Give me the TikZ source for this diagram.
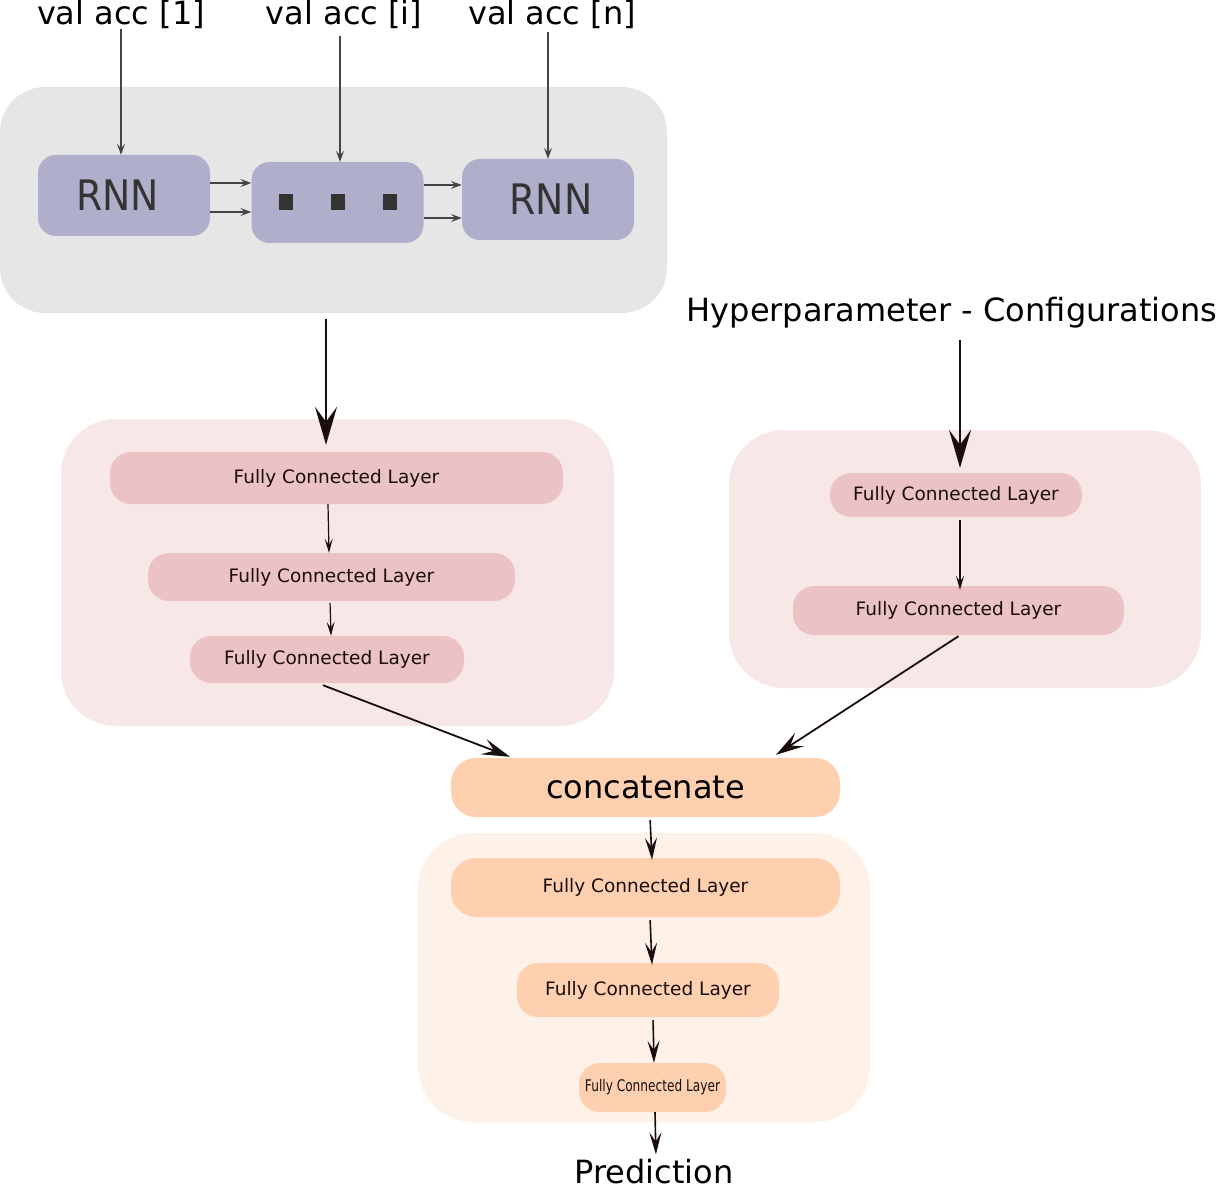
\documentclass[tikz,border=0pt]{standalone}
\usepackage{fontspec}
\setmainfont{DejaVu Sans}
\newfontfamily\condfont[FakeStretch=0.76]{DejaVu Sans}
\newfontfamily\rnnfont[FakeStretch=0.9]{DejaVu Sans}
\usetikzlibrary{arrows.meta,positioning,calc}
\definecolor{boxgrey}{HTML}{E6E6E6}
\definecolor{rnnblue}{HTML}{AFAFCB}
\definecolor{rnntext}{HTML}{333333}
\definecolor{boxpink}{HTML}{F8E7E7}
\definecolor{fcpink}{HTML}{ECC3C4}
\definecolor{boxpeach}{HTML}{FDF1E8}
\definecolor{fcpeach}{HTML}{FFD0B0}
\definecolor{inkdark}{HTML}{1A0D0D}
\definecolor{arrowgrey}{HTML}{444444}

\begin{document}
\begin{tikzpicture}[x=1pt,y=-1pt,
  group/.style={rectangle,rounded corners=55pt,inner sep=0pt},
  rnnbox/.style={fill=rnnblue,rectangle,rounded corners=18pt,minimum width=172pt,minimum height=81pt,
                 inner sep=0pt,text=rnntext,font=\rnnfont\fontsize{42}{48}\selectfont},
  layer/.style={rectangle,rounded corners=21pt,inner sep=0pt,text=inkdark,
                font=\fontsize{18.5}{22}\selectfont},
  pinklayer/.style={layer,fill=fcpink},
  peachlayer/.style={layer,fill=fcpeach},
  lbl/.style={font=\fontsize{32}{37}\selectfont,inner sep=1pt,text=black},
  thin/.style={-{Stealth[length=11pt,width=8pt,inset=4.5pt]},line width=1.1pt,draw=arrowgrey},
  fcarr/.style={-{Stealth[length=14pt,width=8pt,inset=6pt]},line width=1.2pt,draw=inkdark},
  midarr/.style={-{Stealth[length=22pt,width=12pt,inset=9pt]},line width=1.6pt,draw=inkdark},
  joinarr/.style={-{Stealth[length=28pt,width=16pt,inset=11pt]},line width=1.8pt,draw=inkdark},
  bigarr/.style={-{Stealth[length=38pt,width=22pt,inset=15pt]},line width=2.2pt,draw=inkdark}
]
  \useasboundingbox (0,0) rectangle (1217,1190);

  % Background groups
  \node[group,fill=boxgrey,rounded corners=45pt,minimum width=667pt,minimum height=226pt] (grey) at (333.5,200) {};
  \node[group,fill=boxpink,minimum width=553pt,minimum height=307pt] (lbox) at (337.5,572.5) {};
  \node[group,fill=boxpink,minimum width=472pt,minimum height=258pt] (rbox) at (965,559) {};
  \node[group,fill=boxpeach,minimum width=452pt,minimum height=289pt] (bbox) at (644,977.5) {};

  % Recurrent part
  \node[rnnbox,text width=172pt,align=left] (rnn1) at (124,195.5) {\hspace*{38pt}RNN};
  \node[rnnbox] (mid)  at (337.5,202.5) {};
  \node[rnnbox] (rnn2) at (548,199.5) {\hspace*{6pt}RNN};
  \foreach \dx in {-52,0,52}
    \fill[rnntext] ([xshift=\dx pt]mid.center) ++(-7,-8) rectangle ++(14,16);

  \node[lbl] (val1) at (121,14) {val acc [1]};
  \node[lbl] (vali) at (344,14) {val acc [i]};
  \node[lbl] (valn) at (552,14) {val acc [n]};

  \draw[thin] (val1) -- (val1 |- rnn1.north);
  \draw[thin,shorten <=7pt] ([xshift=2.5pt]mid.north |- vali.south) -- ([xshift=2.5pt]mid.north);
  \draw[thin,shorten <=3pt] (rnn2.north |- valn.south) -- (rnn2.north);

  \draw[thin] ([yshift=12.5pt]rnn1.east) -- ([yshift=12.5pt]rnn1.east -| mid.west);
  \draw[thin] ([yshift=-16.5pt]rnn1.east) -- ([yshift=-16.5pt]rnn1.east -| mid.west);
  \draw[thin] ([yshift=17.5pt]mid.east) -- ([yshift=17.5pt]mid.east -| rnn2.west);
  \draw[thin] ([yshift=-15.5pt]mid.east) -- ([yshift=-15.5pt]mid.east -| rnn2.west);

  % Left branch
  \node[pinklayer,minimum width=453pt,minimum height=52pt] (fcA) at (336.5,478) {Fully Connected Layer};
  \node[pinklayer,minimum width=367pt,minimum height=48pt] (fcB) at (331.5,577) {Fully Connected Layer};
  \node[pinklayer,minimum width=274pt,minimum height=47pt] (fcC) at (327,659.5) {Fully Connected Layer};

  \draw[bigarr,shorten <=6pt,shorten >=7pt] ([xshift=-10.5pt]fcA.north |- grey.south) -- ([xshift=-10.5pt]fcA.north);
  \draw[fcarr] ([xshift=-8.5pt]fcA.south) -- ([xshift=-2.5pt]fcB.north);
  \draw[fcarr,shorten <=2pt] ([xshift=-1.5pt]fcB.south) -- ([xshift=4pt]fcC.north);

  % Right branch
  \node[lbl] (hyper) at (952,313) {Hyperparameter - Configurations};
  \node[pinklayer,minimum width=252pt,minimum height=44pt] (fcD) at (956,495) {Fully Connected Layer};
  \node[pinklayer,minimum width=331pt,minimum height=49pt] (fcE) at (958.5,610.5) {Fully Connected Layer};

  \draw[bigarr,shorten <=10pt,shorten >=5pt] ([xshift=4pt]fcD.north |- hyper.south) -- ([xshift=4pt]fcD.north);
  \draw[fcarr,shorten <=3pt,shorten >=-4pt] ([xshift=4pt]fcD.south) -- ([xshift=1.5pt]fcE.north);

  % Merge and head
  \node[peachlayer,rounded corners=25pt,minimum width=389pt,minimum height=59pt,
        font=\fontsize{32}{37}\selectfont,text=black] (concat) at (645.5,787.5) {concatenate};
  \node[peachlayer,rounded corners=25pt,minimum width=389pt,minimum height=59pt] (fcF) at (645.5,887.5) {Fully Connected Layer};
  \node[peachlayer,minimum width=262pt,minimum height=54pt] (fcG) at (648,990) {Fully Connected Layer};
  \node[peachlayer,minimum width=147pt,minimum height=49pt,
        font=\condfont\fontsize{16}{19}\selectfont] (fcH) at (652.5,1087.5) {Fully Connected Layer};
  \node[lbl] (pred) at (654,1172) {Prediction};

  \draw[joinarr] ([xshift=-4pt,yshift=-2pt]fcC.south) -- ([xshift=-135.5pt,yshift=1pt]concat.north);
  \draw[joinarr] ([yshift=-1pt]fcE.south) -- ([xshift=130.5pt,yshift=3pt]concat.north);

  \draw[midarr,shorten <=3pt] ([xshift=4.5pt]concat.south) -- ([xshift=6.5pt,yshift=-2pt]fcF.north);
  \draw[midarr,shorten <=3pt] ([xshift=4.5pt]fcF.south) -- ([xshift=4pt,yshift=-2pt]fcG.north);
  \draw[midarr,shorten <=3pt] ([xshift=5pt]fcG.south) -- ([xshift=1.5pt]fcH.north);
  \draw[midarr,shorten >=4pt] ([xshift=2.5pt]fcH.south) -- ([xshift=2pt]pred.north);
\end{tikzpicture}
\end{document}
